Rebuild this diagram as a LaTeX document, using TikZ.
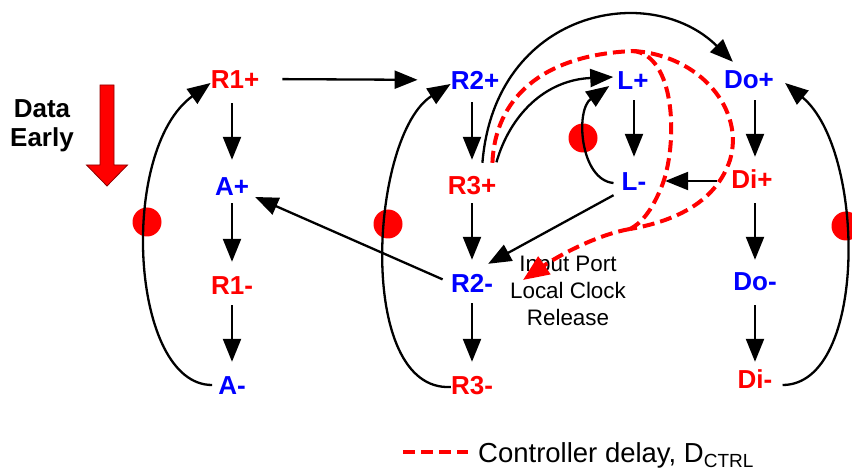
\documentclass[tikz,border=0pt]{standalone}
\usepackage{fontspec}
\setmainfont{Liberation Sans}
\usetikzlibrary{arrows.meta}
\definecolor{myred}{RGB}{255,0,0}
\definecolor{myblue}{RGB}{0,0,255}
\begin{document}
\begin{tikzpicture}[x=1pt,y=-1pt,
  lab/.style={font=\fontsize{26}{30}\selectfont\bfseries, inner sep=0pt, text height=19pt, text depth=0pt, anchor=center},
  rl/.style={lab, text=myred},
  bl/.style={lab, text=myblue},
  arr/.style={line width=2.3pt, -{Triangle[length=23pt,width=18pt]}},
  dot/.style={circle, fill=myred, minimum size=29pt, inner sep=0pt},
  dly/.style={myred, line width=4pt, dash pattern=on 12pt off 6pt},
]
\fill[white] (0,0) rectangle (852,473);
\useasboundingbox (0,0) rectangle (852,473);

% dots
\node[dot] (d1) at (147,222) {};
\node[dot] (d2) at (388,224) {};
\node[dot] (d3) at (583,138) {};
\node[dot] (d4) at (846,226) {};

% labels
\node[rl] (R1p) at (235,79) {R1+};
\node[bl] (Ap) at (232,186) {A+};
\node[rl] (R1m) at (232,285) {R1-};
\node[bl] (Am) at (232,385) {A-};
\node[bl] (R2p) at (475,80) {R2+};
\node[rl] (R3p) at (472,185) {R3+};
\node[bl] (R2m) at (472,283) {R2-};
\node[rl] (R3m) at (472,385) {R3-};
\node[bl] (Lp) at (633,80) {L+};
\node[bl] (Lm) at (634,181) {L-};
\node[bl] (Dop) at (749,79) {Do+};
\node[rl] (Dip) at (752,179) {Di+};
\node[bl] (Dom) at (755,281) {Do-};
\node[rl] (Dim) at (755,379) {Di-};

% Data Early
\node[font=\fontsize{26}{30}\selectfont\bfseries, anchor=base, inner sep=0pt] (data) at (42,118) {Data};
\node[font=\fontsize{26}{30}\selectfont\bfseries, anchor=base, inner sep=0pt] (early) at (42,147) {Early};
\filldraw[fill=myred, draw=black!45!red, line width=0.8pt] (100,85) -- (114,85) -- (114,165) -- (127.5,165) -- (107,186) -- (86.5,165) -- (100,165) -- cycle;

% input port text
\node[font=\fontsize{22.4}{27}\selectfont, align=center, inner sep=0pt] (ipl) at (568,291) {Input Port\\Local Clock\\Release};

% legend
\draw[dly] (403,452) -- (468,452);
\node[font=\fontsize{27.5}{30}\selectfont, anchor=base west, inner sep=0pt] (leg) at (478,462) {Controller delay, D\raisebox{-5pt}{\fontsize{19}{20}\selectfont CTRL}};

% vertical arrows
\draw[arr, shorten <=14.5pt, shorten >=16.5pt] (Ap |- R1p.south) -- (Ap.north);
\draw[arr, shorten <=7.5pt, shorten >=13.5pt] (Ap.south) -- (R1m.north);
\draw[arr, shorten <=10.5pt, shorten >=13.5pt] (R1m.south) -- (Am.north);
\draw[arr, shorten <=12.5pt, shorten >=15.5pt] (R3p |- R2p.south) -- (R3p.north);
\draw[arr, shorten <=8.5pt, shorten >=13.5pt] (R3p.south) -- (R2m.north);
\draw[arr, shorten <=10.5pt, shorten >=13.5pt] (R2m.south) -- (R3m.north);
\draw[arr, shorten <=10.5pt, shorten >=14.5pt] (Lm |- Lp.south) -- (Lm.north);
\draw[arr, shorten <=11.5pt, shorten >=12.5pt] (Dom |- Dop.south) -- (Dom |- Dip.north);
\draw[arr, shorten <=14.5pt, shorten >=11.5pt] (Dom |- Dip.south) -- (Dom.north);
\draw[arr, shorten <=14.5pt, shorten >=7.5pt] (Dom.south) -- (Dom |- Dim.north);

% horizontal / diagonal arrows
\draw[arr, shorten <=23pt, shorten >=33pt] (R1p.east) -- (R2p.west);
\draw[arr, shorten <=14.4pt, shorten >=18.7pt] (Dip.west |- Lm.east) -- (Lm.east);
\draw[arr, shorten <=9pt] (R2m.west) -- ([xshift=6pt,yshift=-11pt]Ap.east);
\draw[arr] ([xshift=-8pt,yshift=-4.5pt]Lm.south west) -- ([xshift=-5pt,yshift=9.5pt]R2m.north east);

% curved arrows
\draw[arr] ([xshift=-6pt]Am.west) .. controls (130,385) and (118,150) .. ([yshift=-4pt]R1p.west);
\draw[arr] ([yshift=-2pt]R3m.west) .. controls (355,392) and (370,135) .. ([yshift=-4pt]R2p.west);
\draw[arr] ([xshift=10pt,yshift=-6pt]Dim.east) .. controls (868,385) and (866,150) .. ([xshift=11pt,yshift=-4pt]Dop.east);
\draw[arr] ([xshift=-8pt,yshift=-2pt]Lm.west) .. controls (580,180) and (575,110) .. ([xshift=-8pt,yshift=-6pt]Lp.west);
\draw[arr] ([yshift=13pt]R3p.north east) .. controls (510,115) and (545,80) .. ([xshift=-4pt,yshift=3pt]Lp.west);
\draw[arr] ([xshift=-14pt,yshift=12.5pt]R3p.north east) .. controls (495,10) and (650,-20) .. ([xshift=9pt,yshift=7.5pt]Dop.north west);

% controller delay path
\coordinate (rel) at (523,280);
\coordinate (pk) at (633,51);
\coordinate (mg) at (630,229);
\draw[dly] ([xshift=-4pt,yshift=12.5pt]R3p.north east) .. controls (495,100) and (540,55) .. (pk) .. controls (675,55) and (678,140) .. (663,183) .. controls (652,212) and (640,224) .. (mg);
\draw[dly] (pk) .. controls (700,55) and (745,110) .. (730,160) .. controls (715,205) and (670,222) .. (mg);
\draw[dly, -{Triangle[length=26pt,width=21pt]}] (mg) .. controls (595,235) and (555,258) .. (rel);
\end{tikzpicture}
\end{document}
